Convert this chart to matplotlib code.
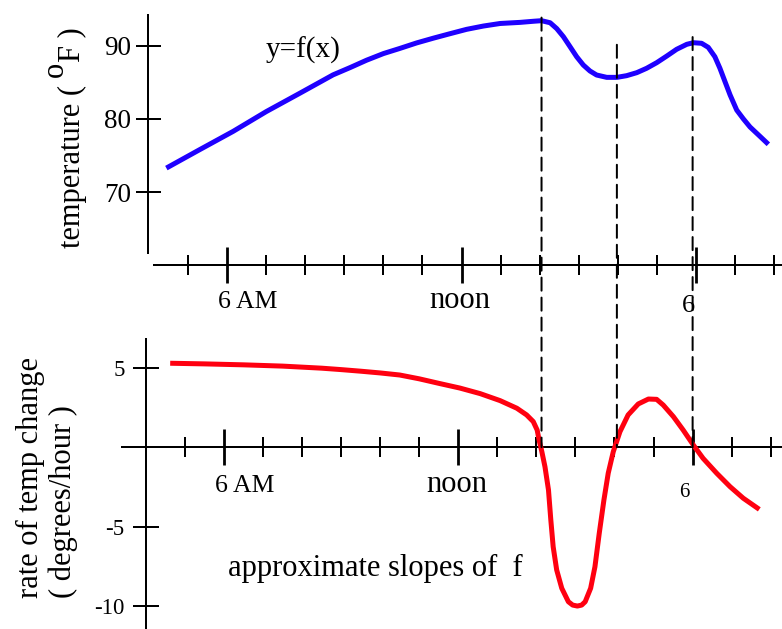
import matplotlib
matplotlib.use('Agg')
import matplotlib.pyplot as plt
from matplotlib.patches import ConnectionPatch
from matplotlib.transforms import blended_transform_factory

plt.rcParams['font.family'] = ['Liberation Serif', 'DejaVu Serif']
plt.rcParams['lines.scale_dashes'] = False

# ---------------- data ----------------
temp_hours = [4.44, 5.29, 6.15, 7.0, 7.86, 8.71, 9.15, 9.57, 10.0, 10.42,
              10.85, 11.28, 11.7, 12.13, 12.56, 12.99, 13.5, 13.84, 14.05,
              14.27, 14.44, 14.61, 14.78, 14.95, 15.12, 15.29, 15.46, 15.72,
              15.98, 16.23, 16.49, 16.74, 17.0, 17.26, 17.51, 17.77, 17.94,
              18.15, 18.32, 18.49, 18.62, 18.75, 18.88, 19.05, 19.22, 19.39,
              19.65, 19.86]
temp_values = [73.3, 75.8, 78.3, 81.0, 83.5, 86.0, 87.0, 88.0, 88.9, 89.6,
               90.35, 91.0, 91.6, 92.2, 92.65, 93.0, 93.15, 93.3, 93.38,
               93.1, 92.3, 91.2, 89.84, 88.47, 87.34, 86.53, 85.98, 85.66,
               85.66, 85.89, 86.3, 86.89, 87.66, 88.57, 89.48, 90.16, 90.38,
               90.3, 89.75, 88.47, 86.89, 85.07, 83.26, 81.2, 80.0, 78.9,
               77.6, 76.54]

rate_hours = [4.62, 5.5, 6.5, 7.5, 8.5, 9.0, 9.5, 10.0, 10.5, 11.0, 11.53,
              12.04, 12.56, 13.07, 13.5, 13.75, 13.92, 14.02, 14.07, 14.14,
              14.22, 14.31, 14.37, 14.43, 14.52, 14.65, 14.82, 14.93, 15.05,
              15.16, 15.25, 15.39, 15.5, 15.61, 15.73, 15.84, 15.97, 16.14,
              16.35, 16.61, 16.87, 17.08, 17.25, 17.51, 17.76, 18.02, 18.27,
              18.62, 18.96, 19.3, 19.71]
rate_values = [5.28, 5.24, 5.18, 5.1, 4.97, 4.88, 4.78, 4.67, 4.54, 4.3, 4.0,
               3.72, 3.37, 2.93, 2.45, 2.03, 1.61, 1.08, 0.45, -0.28,
               -1.23, -2.69, -4.58, -6.26, -7.72, -8.87, -9.72, -9.93, -9.99,
               -9.93, -9.72, -8.87, -7.52, -5.42, -3.32, -1.64, -0.28, 0.97,
               2.03, 2.72, 3.03, 3.01, 2.65, 1.92, 1.08, 0.14, -0.7,
               -1.64, -2.48, -3.21, -3.91]

major_hours = [6, 12, 18]
major_labels = ['6 AM', 'noon', '6']
minor_hours_top = [5, 7, 8, 9, 10, 11, 13, 14, 15, 16, 17, 19, 20]
minor_hours_bottom = [4, 5, 7, 8, 9, 10, 11, 13, 14, 15, 16, 17, 19, 20]
temp_ticks = [70, 80, 90]
rate_ticks = [5, 0, -5, -10]
rate_tick_labels = ['5', '', '-5', '-10']
crit_hours = [14.05, 15.98, 17.92]
dash_top_temp = [93.8, 90.1, 91.15]
dash_bottom_rate = [0.0, 0.0, 0.0]

# ---------------- layout ----------------
W, H = 782, 629
fig = plt.figure(figsize=(W / 100, H / 100), dpi=100)
PXH = 39.04          # pixels per hour
X_NOON = 461.5       # pixel of noon in top panel
xlim = (12 - X_NOON / PXH, 12 + (W - X_NOON) / PXH)

ax1 = fig.add_axes([0, 309 / H, 1, 320 / H])
ax1.set_xlim(xlim)
ax1.set_ylim(90 - (320 - 45.5) / 7.34, 90 + 45.5 / 7.34)

ax2 = fig.add_axes([-3.2 / W, 0, 1, 309 / H])
ax2.set_xlim(xlim)
ax2.set_ylim((447.2 - 629) / 15.9, (447.2 - 320) / 15.9)

for ax in (ax1, ax2):
    ax.patch.set_visible(False)
    ax.spines['top'].set_visible(False)
    ax.spines['right'].set_visible(False)
    for s in ('left', 'bottom'):
        ax.spines[s].set_linewidth(1.44)
        ax.spines[s].set_color('black')

TOP_XAXIS = 60.15
ax1.spines['left'].set_position(('data', 3.97))
ax1.spines['left'].set_bounds(61.7, 94.2)
ax1.spines['bottom'].set_position(('data', TOP_XAXIS))
ax1.spines['bottom'].set_bounds(4.12, xlim[1])

ax2.spines['left'].set_position(('data', 4.0))
ax2.spines['left'].set_bounds(-11.6, 6.8)
ax2.spines['bottom'].set_position(('data', 0))
ax2.spines['bottom'].set_bounds(3.39, xlim[1] + 0.2)

for ax, minors in ((ax1, minor_hours_top), (ax2, minor_hours_bottom)):
    ax.set_xticks(major_hours)
    ax.set_xticks(minors, minor=True)
    ax.tick_params(axis='x', which='both', labelbottom=False)
    ax.tick_params(axis='x', which='major', direction='inout', length=26.6, width=2.0)
    ax.tick_params(axis='x', which='minor', direction='inout', length=14.4, width=1.44)

ax1.set_yticks(temp_ticks)
ax1.tick_params(axis='y', direction='inout', length=18, width=1.44,
                labelsize=19.5, pad=3.2)
ax2.set_yticks(rate_ticks, labels=rate_tick_labels)
ax2.tick_params(axis='y', direction='inout', length=18.7, width=1.44,
                labelsize=16.5, pad=6)

# hour labels under the axes
top_lab_dx = [14.8, -1.1, -5.3]
top_lab_dy = [31.3, 31.3, 34.2]
top_lab_fs = [18.5, 22, 19]
for h, lab, dx, dy, fs in zip(major_hours, major_labels, top_lab_dx, top_lab_dy, top_lab_fs):
    ax1.annotate(lab, xy=(h, TOP_XAXIS), xytext=(dx, -dy), textcoords='offset points',
                 ha='center', va='baseline', fontsize=fs)

bot_lab_dx = [15.1, -1.4, -5.8]
bot_lab_dy = [32.3, 32.3, 35.5]
bot_lab_fs = [18.5, 22, 15]
for h, lab, dx, dy, fs in zip(major_hours, major_labels, bot_lab_dx, bot_lab_dy, bot_lab_fs):
    ax2.annotate(lab, xy=(h, 0), xytext=(dx, -dy), textcoords='offset points',
                 ha='center', va='baseline', fontsize=fs)

# curves
ax1.plot(temp_hours, temp_values, color='#1f00ff', lw=3.6,
         solid_capstyle='butt', solid_joinstyle='round', zorder=3)
ax2.plot(rate_hours, rate_values, color='#ff0010', lw=3.6,
         solid_capstyle='butt', solid_joinstyle='round', zorder=3)

# dashed guide lines spanning both panels
trans_b = blended_transform_factory(ax1.transData, ax2.transData)
for h, t, v in zip(crit_hours, dash_top_temp, dash_bottom_rate):
    con = ConnectionPatch(xyA=(h, t), coordsA=ax1.transData,
                          xyB=(h, v), coordsB=trans_b,
                          color='black', lw=1.44, linestyle=(0, (9.4, 5.0)))
    fig.add_artist(con)

# annotations
ax1.text(7.94, 88.3, 'y=f(x)', ha='center', va='baseline', fontsize=21)
ax2.text(6.10, -8.1, 'approximate slopes of  f', ha='left', va='baseline', fontsize=22)

# axis titles (vertical)
t1 = fig.text(72 / W, 1 - 248 / H, 'temperature ( ', rotation=90,
              ha='center', va='bottom', fontsize=22)
t2 = ax1.annotate('o', xy=(0.5, 1), xycoords=t1, xytext=(-12, 0),
                  textcoords='offset points', rotation=90,
                  ha='center', va='bottom', fontsize=22)
t3 = ax1.annotate('F )', xy=(0.5, 1), xycoords=t2, xytext=(12, 0),
                  textcoords='offset points', rotation=90,
                  ha='center', va='bottom', fontsize=22)

fig.text(30 / W, 1 - 598 / H, 'rate of temp change', rotation=90,
         ha='center', va='bottom', fontsize=22)
fig.text(63 / W, 1 - 598 / H, '( degrees/hour )', rotation=90,
         ha='center', va='bottom', fontsize=22)

fig.savefig('out.png', dpi=100, facecolor='white')
